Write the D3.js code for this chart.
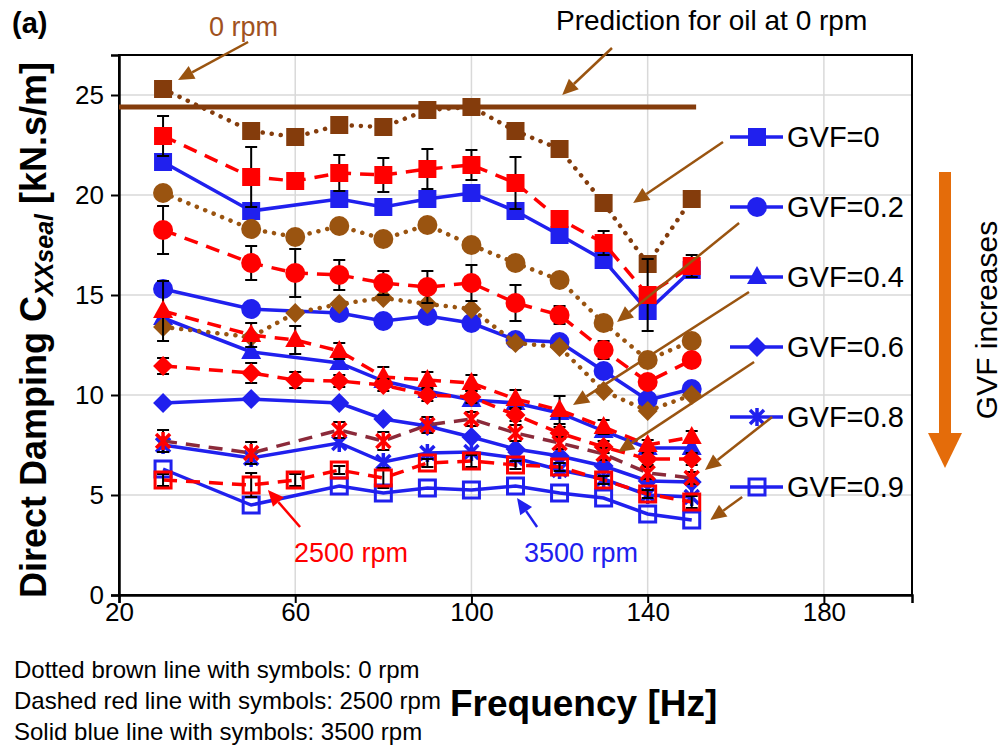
<!DOCTYPE html>
<html>
<head>
<meta charset="utf-8">
<script src="https://cdn.jsdelivr.net/npm/d3@7.9.0/dist/d3.min.js"></script>
<style>
  body { margin: 0; background: #fff; }
  svg { font-family: "Liberation Sans", Arial, sans-serif; }
</style>
</head>
<body>
<svg id="chart" width="1006" height="746"></svg>
<script>
// frequencies tested (3500 rpm has no 60 Hz point, 2500 rpm GVF=0.8 neither)
const freqs = [30, 50, 60, 70, 80, 90, 100, 110, 120, 130, 140, 150];
const freqsNo60 = [30, 50, 70, 80, 90, 100, 110, 120, 130, 140, 150];

// 0 rpm (brown dotted)
const rpm0Gvf0  = [25.3, 23.2, 22.9, 23.5, 23.4, 24.25, 24.4, 23.2, 22.3, 19.6, 16.55, 19.8];
const rpm0Gvf02 = [20.1, 18.3, 17.9, 18.45, 17.8, 18.5, 17.5, 16.6, 15.75, 13.6, 11.75, 12.7];
const rpm0Gvf06 = [13.4, 12.9, 14.1, 14.55, 14.85, 14.55, 14.3, 12.6, 12.4, 10.2, 9.2, 10.0];

// 2500 rpm (red dashed) + error bars
const rpm2500Gvf0  = [22.95, 20.9, 20.7, 21.1, 21.0, 21.3, 21.5, 20.6, 18.8, 17.6, 15.0, 16.45];
const err2500Gvf0  = [1.0, 1.5, 0, 0.9, 0.85, 1.0, 0.75, 1.3, 0, 0.6, 1.8, 0.55];
const rpm2500Gvf02 = [18.25, 16.6, 16.1, 16.0, 15.6, 15.4, 15.6, 14.6, 14.0, 12.25, 10.65, 11.75];
const err2500Gvf02 = [1.2, 0.85, 1.2, 0.75, 0.6, 0.8, 0.9, 0.9, 0.45, 0.45, 0, 0];
const rpm2500Gvf04 = [14.2, 13.0, 12.75, 12.2, 10.9, 10.75, 10.6, 9.8, 9.25, 8.4, 7.5, 7.9];
const err2500Gvf04 = [1.5, 0.6, 0.7, 0.4, 0.5, 0.4, 0.4, 0.45, 0.7, 0.35, 0.25, 0.3];
const rpm2500Gvf06 = [11.45, 11.1, 10.75, 10.7, 10.5, 10.0, 9.9, 9.0, 8.1, 7.4, 6.8, 6.8];
const err2500Gvf06 = [0.4, 0.5, 0.4, 0.3, 0.3, 0.3, 0.3, 0.3, 0.3, 0.3, 0.3, 0.3];
const rpm2500Gvf08 = [7.7, 7.1, 8.25, 7.7, 8.5, 8.8, 8.1, 7.6, 7.05, 6.1, 5.85];
const err2500Gvf08 = [0.55, 0.55, 0.4, 0.45, 0.4, 0.35, 0.4, 0.3, 0.3, 0.3, 0.3];
const rpm2500Gvf09 = [5.75, 5.5, 5.75, 6.25, 5.85, 6.6, 6.7, 6.5, 6.4, 5.75, 5.05, 4.65];
const err2500Gvf09 = [0.3, 0.6, 0.3, 0.2, 0.5, 0.2, 0.3, 0.2, 0.2, 0.2, 0.2, 0.3];

// 3500 rpm (blue solid)
const rpm3500Gvf0  = [21.65, 19.2, 19.8, 19.4, 19.8, 20.1, 19.2, 18.0, 16.75, 14.2, 16.25];
const rpm3500Gvf02 = [15.3, 14.3, 14.1, 13.7, 13.95, 13.6, 12.75, 12.65, 11.2, 9.75, 10.3];
const rpm3500Gvf04 = [13.85, 12.15, 11.6, 10.7, 10.2, 9.75, 9.6, 9.1, 8.2, 7.35, 7.35];
const rpm3500Gvf06 = [9.6, 9.8, 9.6, 8.8, 8.45, 7.9, 7.3, 6.95, 6.45, 5.7, 5.65];
const rpm3500Gvf08 = [7.5, 6.85, 7.6, 6.65, 7.1, 7.15, 6.85, 6.25, 5.8, 5.0, 4.9];
const rpm3500Gvf09 = [6.3, 4.5, 5.45, 5.1, 5.35, 5.25, 5.45, 5.1, 4.85, 4.05, 3.75];

// prediction for oil at 0 rpm
const predictionRange = [20, 151];
const predictionValue = 24.4;

const gvfLabels = ["GVF=0", "GVF=0.2", "GVF=0.4", "GVF=0.6", "GVF=0.8", "GVF=0.9"];
const gvfMarkers = ["square", "circle", "triangle", "diamond", "asterisk", "open"];

const xTicks = [20, 60, 100, 140, 180];
const yTicks = [0, 5, 10, 15, 20, 25];

// brown arrows from legend entries to the curves, in data units [from, to]
const legendArrows = [
  [[157.1, 22.65], [136.7, 19.6]],
  [[160.75, 18.6], [133.05, 13.65]],
  [[163.0, 15.15], [123.05, 9.5]],
  [[164.15, 11.65], [133.3, 7.15]],
  [[168.25, 8.9], [153.0, 6.25]],
  [[161.45, 4.9], [154.2, 3.75]]
];

const BLUE = "#2020ee", RED = "#ff0000", BROWN = "#843c0c", BROWN2 = "#9a5410", MAROON = "#8b2a3a";

const svg = d3.select("#chart");
const x = d3.scaleLinear().domain([20, 200]).range([119, 912]);
const y = d3.scaleLinear().domain([0, 27]).range([595, 55]);

// gridlines
svg.append("g").selectAll("line").data(yTicks.slice(1)).join("line")
  .attr("x1", x(20)).attr("x2", x(200)).attr("y1", d => y(d)).attr("y2", d => y(d))
  .attr("stroke", "#d9d9d9").attr("stroke-width", 1.5);
svg.append("g").selectAll("line").data(xTicks.slice(1)).join("line")
  .attr("x1", d => x(d)).attr("x2", d => x(d)).attr("y1", y(0)).attr("y2", y(27))
  .attr("stroke", "#d9d9d9").attr("stroke-width", 1.5);

// frame
svg.append("rect").attr("x", x(20)).attr("y", y(27))
  .attr("width", x(200) - x(20)).attr("height", y(0) - y(27))
  .attr("fill", "none").attr("stroke", "#000").attr("stroke-width", 2);

const yAxis = svg.append("g").attr("transform", `translate(${x(20)},0)`)
  .call(d3.axisLeft(y).tickValues(yTicks).tickSize(8).tickPadding(7));
const xAxis = svg.append("g").attr("transform", `translate(0,${y(0)})`)
  .call(d3.axisBottom(x).tickValues(xTicks).tickSize(8).tickPadding(0));
[yAxis, xAxis].forEach(a => {
  a.select(".domain").attr("stroke-width", 2.5);
  a.selectAll(".tick line").attr("stroke-width", 2);
  a.selectAll("text").style("font-size", "26px").style("font-family", "Liberation Sans, Arial, sans-serif").attr("fill", "#000");
});

// prediction line
svg.append("line")
  .attr("x1", x(predictionRange[0])).attr("x2", x(predictionRange[1]))
  .attr("y1", y(predictionValue)).attr("y2", y(predictionValue))
  .attr("stroke", BROWN).attr("stroke-width", 5);

function marker(g, type, cx, cy, color) {
  if (type === "square") {
    g.append("rect").attr("x", cx - 9).attr("y", cy - 9).attr("width", 18).attr("height", 18).attr("fill", color);
  } else if (type === "circle") {
    g.append("circle").attr("cx", cx).attr("cy", cy).attr("r", 10).attr("fill", color);
  } else if (type === "triangle") {
    g.append("path").attr("d", `M${cx},${cy - 11}L${cx + 10},${cy + 7}L${cx - 10},${cy + 7}Z`).attr("fill", color);
  } else if (type === "diamond") {
    g.append("path").attr("d", `M${cx},${cy - 10}L${cx + 10},${cy}L${cx},${cy + 10}L${cx - 10},${cy}Z`).attr("fill", color);
  } else if (type === "asterisk") {
    g.append("path").attr("d", `M${cx - 7},${cy - 7}L${cx + 7},${cy + 7}M${cx - 7},${cy + 7}L${cx + 7},${cy - 7}M${cx},${cy - 9}L${cx},${cy + 9}`)
      .attr("stroke", color).attr("stroke-width", 3.5).attr("fill", "none");
  } else if (type === "open") {
    g.append("rect").attr("x", cx - 8).attr("y", cy - 8).attr("width", 16).attr("height", 16)
      .attr("fill", "none").attr("stroke", color).attr("stroke-width", 3);
  }
}

const styles = {
  solid: { dash: null, width: 3.5, cap: "butt" },
  dashed: { dash: "14 9", width: 3.5, cap: "butt" },
  dotted: { dash: "0.1 9", width: 4.5, cap: "round" }
};

const series = [
  { xs: freqsNo60, ys: rpm3500Gvf0, m: "square", c: BLUE, s: "solid" },
  { xs: freqsNo60, ys: rpm3500Gvf02, m: "circle", c: BLUE, s: "solid" },
  { xs: freqsNo60, ys: rpm3500Gvf04, m: "triangle", c: BLUE, s: "solid" },
  { xs: freqsNo60, ys: rpm3500Gvf06, m: "diamond", c: BLUE, s: "solid" },
  { xs: freqsNo60, ys: rpm3500Gvf08, m: "asterisk", c: BLUE, s: "solid" },
  { xs: freqsNo60, ys: rpm3500Gvf09, m: "open", c: BLUE, s: "solid" },
  { xs: freqs, ys: rpm0Gvf0, m: "square", c: BROWN, lc: BROWN, s: "dotted" },
  { xs: freqs, ys: rpm0Gvf02, m: "circle", c: BROWN2, s: "dotted" },
  { xs: freqs, ys: rpm0Gvf06, m: "diamond", c: BROWN2, s: "dotted" },
  { xs: freqs, ys: rpm2500Gvf0, err: err2500Gvf0, m: "square", c: RED, s: "dashed" },
  { xs: freqs, ys: rpm2500Gvf02, err: err2500Gvf02, m: "circle", c: RED, s: "dashed" },
  { xs: freqs, ys: rpm2500Gvf04, err: err2500Gvf04, m: "triangle", c: RED, s: "dashed" },
  { xs: freqs, ys: rpm2500Gvf06, err: err2500Gvf06, m: "diamond", c: RED, s: "dashed" },
  { xs: freqsNo60, ys: rpm2500Gvf08, err: err2500Gvf08, m: "asterisk", c: RED, lc: MAROON, s: "dashed" },
  { xs: freqs, ys: rpm2500Gvf09, err: err2500Gvf09, m: "open", c: RED, s: "dashed" }
];

const line = d3.line().x(d => x(d[0])).y(d => y(d[1]));

series.forEach(sr => {
  const pts = sr.xs.map((f, i) => [f, sr.ys[i]]);
  const g = svg.append("g");
  const st = styles[sr.s];
  g.append("path").datum(pts).attr("d", line).attr("fill", "none")
    .attr("stroke", sr.lc || sr.c).attr("stroke-width", st.width)
    .attr("stroke-dasharray", st.dash).attr("stroke-linecap", st.cap);
  if (sr.err) {
    pts.forEach((p, i) => {
      const e = sr.err[i];
      if (!e) return;
      const cx = x(p[0]), t = y(p[1] + e), b = y(p[1] - e);
      g.append("path").attr("d", `M${cx},${t}V${b}M${cx - 6},${t}H${cx + 6}M${cx - 6},${b}H${cx + 6}`)
        .attr("stroke", "#000").attr("stroke-width", 2).attr("fill", "none");
    });
  }
  pts.forEach(p => marker(g, sr.m, x(p[0]), y(p[1]), sr.c));
});

// legend
const legend = svg.append("g");
gvfLabels.forEach((lab, i) => {
  const ly = 137 + i * 70;
  legend.append("line").attr("x1", 730).attr("x2", 783).attr("y1", ly).attr("y2", ly)
    .attr("stroke", BLUE).attr("stroke-width", 3.5);
  marker(legend, gvfMarkers[i], 757, ly, BLUE);
  legend.append("text").attr("x", 787).attr("y", ly + 10).attr("font-size", 29).text(lab);
});

// arrows
function arrow(x1, y1, x2, y2, color, w, head) {
  const a = Math.atan2(y2 - y1, x2 - x1);
  const bx = x2 - head * Math.cos(a), by = y2 - head * Math.sin(a);
  const px = Math.sin(a) * head * 0.45, py = -Math.cos(a) * head * 0.45;
  svg.append("line").attr("x1", x1).attr("y1", y1).attr("x2", bx).attr("y2", by)
    .attr("stroke", color).attr("stroke-width", w);
  svg.append("path").attr("d", `M${x2},${y2}L${bx + px},${by + py}L${bx - px},${by - py}Z`).attr("fill", color);
}
legendArrows.forEach(([a, b]) => arrow(x(a[0]), y(a[1]), x(b[0]), y(b[1]), BROWN2, 2.5, 16));

// top annotations
arrow(x(49.3), y(27.65), x(33.4), y(25.75), BROWN2, 2.5, 16);
arrow(x(131.9), y(27.35), x(120.6), y(25.0), BROWN2, 2.5, 16);
arrow(x(61.1), y(3.4), x(53.8), y(5.25), RED, 2.5, 16);
arrow(x(114.9), y(3.4), x(110.35), y(4.85), BLUE, 2.5, 16);

svg.append("text").attr("x", 12).attr("y", 33).attr("font-size", 29).attr("font-weight", "bold").text("(a)");
svg.append("text").attr("x", 209).attr("y", 36).attr("font-size", 27).attr("fill", "#a0521e").text("0 rpm");
svg.append("text").attr("x", 556).attr("y", 30).attr("font-size", 28).text("Prediction for oil at 0 rpm");
svg.append("text").attr("x", 294).attr("y", 562).attr("font-size", 27).attr("fill", RED).text("2500 rpm");
svg.append("text").attr("x", 524).attr("y", 562).attr("font-size", 27).attr("fill", BLUE).text("3500 rpm");

// GVF increases arrow
svg.append("rect").attr("x", 939).attr("y", 172).attr("width", 12).attr("height", 262).attr("fill", "#e46c0a");
svg.append("path").attr("d", "M928,433L962,433L945,468Z").attr("fill", "#e46c0a");
svg.append("text").attr("transform", "translate(997,320) rotate(-90)").attr("text-anchor", "middle")
  .attr("font-size", 30).text("GVF increases");

// axis titles
const yt = svg.append("text").attr("transform", "translate(46,330) rotate(-90)")
  .attr("text-anchor", "middle").attr("font-size", 36).attr("font-weight", "bold");
yt.append("tspan").text("Direct Damping C");
yt.append("tspan").attr("font-size", 25).attr("font-style", "italic").attr("dy", 7).text("XXseal");
yt.append("tspan").attr("dy", -7).text(" [kN.s/m]");

svg.append("text").attr("x", 450).attr("y", 716).attr("font-size", 37).attr("font-weight", "bold").text("Frequency [Hz]");

const notes = ["Dotted brown line with symbols: 0 rpm", "Dashed red line with symbols: 2500 rpm", "Solid blue line with symbols: 3500 rpm"];
svg.append("g").selectAll("text").data(notes).join("text")
  .attr("x", 14).attr("y", (d, i) => 678 + i * 31).attr("font-size", 24).text(d => d);
</script>
</body>
</html>
